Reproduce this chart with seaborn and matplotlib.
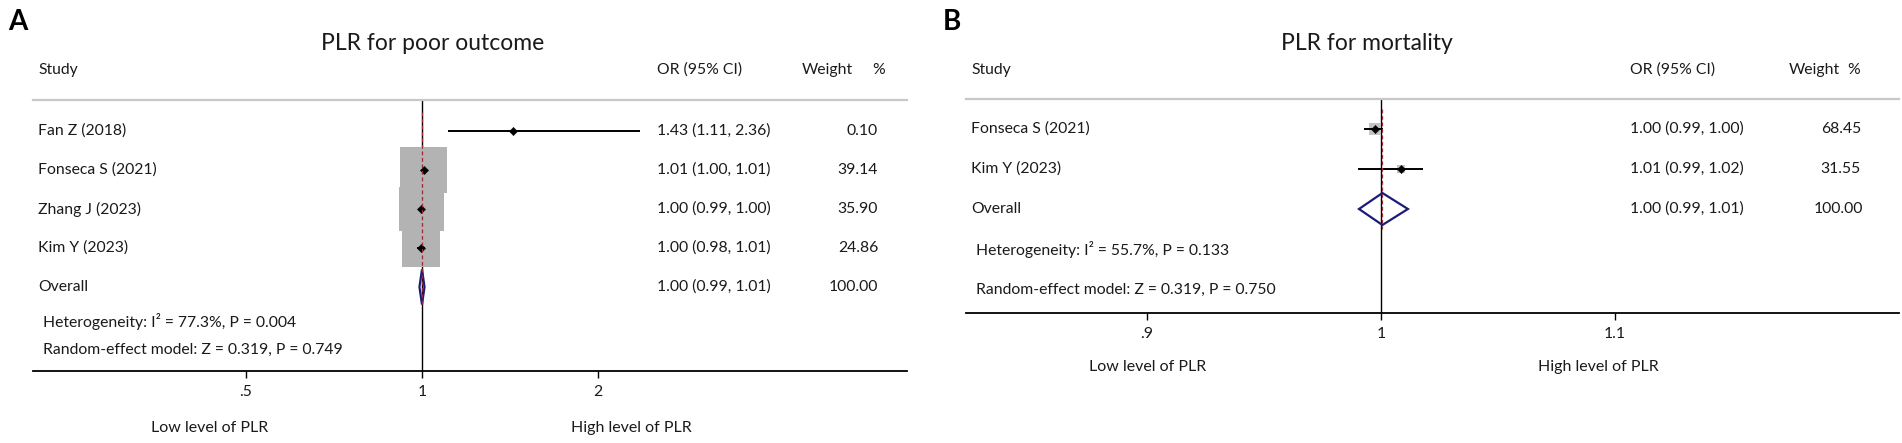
import numpy as np
import pandas as pd
import matplotlib
matplotlib.use("Agg")
import matplotlib.pyplot as plt
import matplotlib.transforms as mtrans
import seaborn as sns

# ---------------- data ----------------
# Panel A: PLR for poor outcome
studies_a = ["Fan Z (2018)", "Fonseca S (2021)", "Zhang J (2023)", "Kim Y (2023)"]
or_a = [1.43, 1.007, 0.997, 0.996]
lo_a = [1.11, 1.00, 0.99, 0.98]
hi_a = [2.36, 1.01, 1.00, 1.01]
weight_a = [0.10, 39.14, 35.90, 24.86]
or_text_a = ["1.43 (1.11, 2.36)", "1.01 (1.00, 1.01)", "1.00 (0.99, 1.00)", "1.00 (0.98, 1.01)"]
weight_text_a = ["0.10", "39.14", "35.90", "24.86"]
overall_a = [1.00, 0.99, 1.01]          # est, lo, hi
overall_text_a = "1.00 (0.99, 1.01)"
het_a = "Heterogeneity: I² = 77.3%, P = 0.004"
model_a = "Random-effect model: Z = 0.319, P = 0.749"
ticks_a = [0.5, 1, 2]
ticklabels_a = [".5", "1", "2"]

# Panel B: PLR for mortality
studies_b = ["Fonseca S (2021)", "Kim Y (2023)"]
or_b = [0.9975, 1.0085]
lo_b = [0.9928, 0.9903]
hi_b = [1.0008, 1.0178]
weight_b = [68.45, 31.55]
or_text_b = ["1.00 (0.99, 1.00)", "1.01 (0.99, 1.02)"]
weight_text_b = ["68.45", "31.55"]
overall_b = [1.0006, 0.9906, 1.0115]
overall_text_b = "1.00 (0.99, 1.01)"
het_b = "Heterogeneity: I² = 55.7%, P = 0.133"
model_b = "Random-effect model: Z = 0.319, P = 0.750"
ticks_b = [0.9, 1.0, 1.1]
ticklabels_b = [".9", "1", "1.1"]

# ---------------- style ----------------
sns.set_theme(style="white")
plt.rcParams["font.family"] = ["Lato", "DejaVu Sans"]
TXT = "#1a1a1a"
W, H = 1902, 443
fig = plt.figure(figsize=(W / 100, H / 100), dpi=100)


def fx(px):
    return px / W


def fy(py):
    return 1 - py / H


def make_axes(left, right, top, bottom):
    return fig.add_axes([fx(left), fy(bottom), (right - left) / W, (bottom - top) / H])


def ftext(x, y, s, **kw):
    kw.setdefault("color", TXT)
    kw.setdefault("fontsize", 11.3)
    kw.setdefault("va", "center")
    fig.text(fx(x), fy(y), s, **kw)


def draw_panel(ax, studies, ors, los, his, weights, overall, xscale, xlim, ylim,
               ticks, ticklabels, box_area100, box_color, diamond_h):
    n = len(studies)
    rows = np.arange(n)
    df = pd.DataFrame({"study": studies, "or": ors, "lo": los, "hi": his,
                       "weight": weights, "row": rows})
    ax.set_xscale(xscale)
    # weight boxes
    sns.scatterplot(data=df, x="or", y="row", size="weight", sizes=(0, box_area100),
                    size_norm=(0, 100), marker="s", color=box_color, edgecolor="none",
                    linewidth=0, legend=False, ax=ax, zorder=2)
    # confidence intervals
    ax.hlines(df["row"], df["lo"], df["hi"], color="black", lw=1.4, zorder=3)
    # point estimates
    sns.scatterplot(data=df, x="or", y="row", marker="D", color="black", s=18,
                    edgecolor="black", linewidth=0.3, legend=False, ax=ax, zorder=4)
    # null line
    ax.axvline(1, color="black", lw=1.0, zorder=1)
    # overall diamond
    est, olo, ohi = overall
    r = n
    ax.fill([olo, est, ohi, est, olo], [r, r - diamond_h, r, r + diamond_h, r],
            fill=False, edgecolor="#1c1c78", lw=1.6, zorder=5)
    # overall estimate dashed line
    ax.vlines(est, -0.5, r + 0.5, color="#9b2a35", lw=0.9, linestyles=(0, (3, 2.2)), zorder=6)

    ax.set_xlim(*xlim)
    ax.set_ylim(*ylim)
    ax.set_xticks(ticks)
    ax.set_xticklabels(ticklabels)
    ax.minorticks_off()
    ax.set_yticks([])
    ax.set_xlabel("")
    ax.set_ylabel("")
    for s in ["left", "right"]:
        ax.spines[s].set_visible(False)
    ax.spines["top"].set_color("#c8c8c8")
    ax.spines["top"].set_linewidth(1.6)
    ax.spines["bottom"].set_color("black")
    ax.spines["bottom"].set_linewidth(1.3)
    ax.tick_params(axis="x", which="major", direction="out", length=5, width=1.0,
                   color="black", labelsize=11.3, labelcolor=TXT, pad=5, bottom=True)
    ax.patch.set_alpha(0)


# ---------------- Panel A ----------------
axA = make_axes(33, 907, 100, 371)
# log scale: 1 at x=422 px, 176 px per doubling
ppl = 176 / np.log(2)
xlimA = (np.exp((33 - 422) / ppl), np.exp((907 - 422) / ppl))
ylimA = ((371 - 131) / 39, (100 - 131) / 39)
draw_panel(axA, studies_a, or_a, lo_a, hi_a, weight_a, overall_a, "log", xlimA, ylimA,
           ticks_a, ticklabels_a, 2924, "#b3b3b3", 0.45)

trA = mtrans.blended_transform_factory(fig.transFigure, axA.transData)
for i, (s, t, w) in enumerate(zip(studies_a, or_text_a, weight_text_a)):
    axA.text(fx(38), i, s, transform=trA, va="center", ha="left", fontsize=11.3, color=TXT)
    axA.text(fx(657), i, t, transform=trA, va="center", ha="left", fontsize=11.3, color=TXT)
    axA.text(fx(878), i, w, transform=trA, va="center", ha="right", fontsize=11.3, color=TXT)
nA = len(studies_a)
axA.text(fx(38), nA, "Overall", transform=trA, va="center", ha="left", fontsize=11.3, color=TXT)
axA.text(fx(657), nA, overall_text_a, transform=trA, va="center", ha="left", fontsize=11.3, color=TXT)
axA.text(fx(878), nA, "100.00", transform=trA, va="center", ha="right", fontsize=11.3, color=TXT)

ftext(8, 22, "A", fontsize=20, fontweight="bold", color="black")
ftext(433, 43, "PLR for poor outcome", fontsize=16.5, ha="center")
ftext(38, 70, "Study")
ftext(657, 70, "OR (95% CI)")
ftext(802, 70, "Weight")
ftext(872, 70, "%")
ftext(43, 322, het_a)
ftext(43, 350, model_a)
ftext(210, 428, "Low level of PLR", ha="center", fontsize=11.5)
ftext(631, 428, "High level of PLR", ha="center", fontsize=11.5)

# ---------------- Panel B ----------------
axB = make_axes(966, 1899, 99, 313)
ppu = 2340.0  # px per unit OR (linear)
xlimB = (1 + (966 - 1381) / ppu, 1 + (1899 - 1381) / ppu)
ylimB = ((313 - 129) / 40, (99 - 129) / 40)
draw_panel(axB, studies_b, or_b, lo_b, hi_b, weight_b, overall_b, "linear", xlimB, ylimB,
           ticks_b, ticklabels_b, 108, "#c4c4c4", 0.4)

trB = mtrans.blended_transform_factory(fig.transFigure, axB.transData)
for i, (s, t, w) in enumerate(zip(studies_b, or_text_b, weight_text_b)):
    axB.text(fx(971), i, s, transform=trB, va="center", ha="left", fontsize=11.3, color=TXT)
    axB.text(fx(1630), i, t, transform=trB, va="center", ha="left", fontsize=11.3, color=TXT)
    axB.text(fx(1861), i, w, transform=trB, va="center", ha="right", fontsize=11.3, color=TXT)
nB = len(studies_b)
axB.text(fx(971), nB, "Overall", transform=trB, va="center", ha="left", fontsize=11.3, color=TXT)
axB.text(fx(1630), nB, overall_text_b, transform=trB, va="center", ha="left", fontsize=11.3, color=TXT)
axB.text(fx(1863), nB, "100.00", transform=trB, va="center", ha="right", fontsize=11.3, color=TXT)

ftext(943, 22, "B", fontsize=20, fontweight="bold", color="black")
ftext(1367, 43, "PLR for mortality", fontsize=16.5, ha="center")
ftext(971, 70, "Study")
ftext(1630, 70, "OR (95% CI)")
ftext(1789, 70, "Weight")
ftext(1847, 70, "%")
ftext(976, 250, het_b)
ftext(976, 290, model_b)
ftext(1148, 367, "Low level of PLR", ha="center", fontsize=11.5)
ftext(1598, 367, "High level of PLR", ha="center", fontsize=11.5)

fig.savefig("out.png", dpi=100, facecolor="white")
